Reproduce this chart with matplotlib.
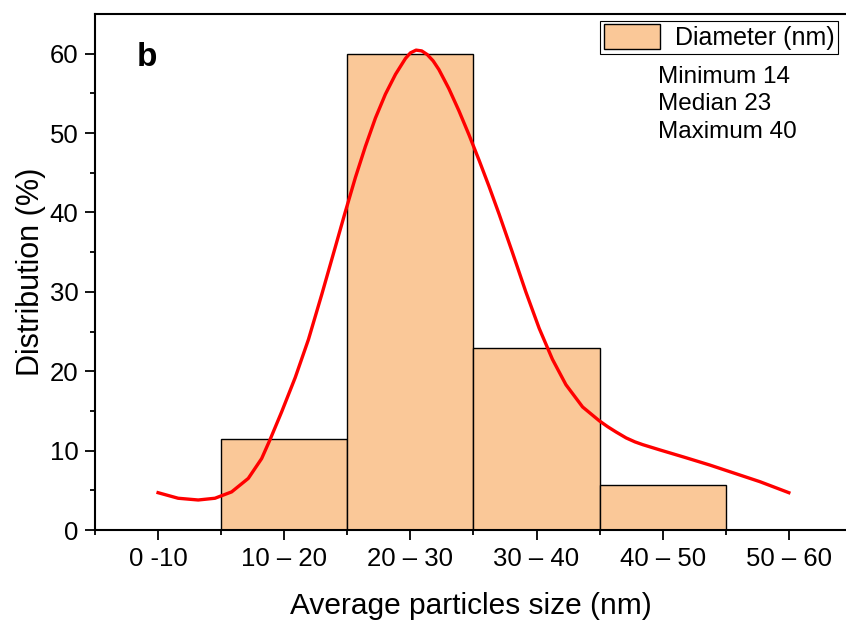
import numpy as np
import matplotlib
matplotlib.use("Agg")
import matplotlib.pyplot as plt
from matplotlib.patches import Patch

plt.rcParams["font.family"] = ["Liberation Sans", "DejaVu Sans"]

# size classes and share of particles (%)
size_bins = ["0 -10", "10 – 20", "20 – 30", "30 – 40", "40 – 50", "50 – 60"]
bar_pos = [1, 2, 3, 4]
bar_heights = [11.5, 60.0, 22.9, 5.7]

# fitted distribution curve (x in bin units, y in %)
fit_x = [0.0, 0.159, 0.318, 0.451, 0.583, 0.715, 0.821, 0.888, 0.98, 1.087,
         1.192, 1.298, 1.404, 1.479, 1.564, 1.643, 1.723, 1.802, 1.882, 1.961,
         2.0, 2.045, 2.09, 2.133, 2.18, 2.226, 2.305, 2.385, 2.464, 2.544,
         2.623, 2.703, 2.808, 2.915, 3.021, 3.126, 3.233, 3.365, 3.498, 3.565,
         3.63, 3.71, 3.78, 3.842, 3.975, 4.173, 4.372, 4.571, 4.77, 5.0]
fit_y = [4.70, 4.0, 3.78, 4.0, 4.8, 6.5, 9.0, 11.4, 14.9, 19.2,
         24.0, 29.7, 35.6, 39.8, 44.4, 48.3, 51.9, 54.9, 57.4, 59.4,
         60.1, 60.45, 60.35, 59.9, 59.1, 58.0, 55.6, 52.8, 49.8, 46.6,
         43.3, 39.8, 35.0, 30.0, 25.4, 21.5, 18.3, 15.5, 13.75, 13.0,
         12.35, 11.6, 11.1, 10.75, 10.1, 9.16, 8.19, 7.14, 6.09, 4.70]

stats_text = "Minimum 14\nMedian 23\nMaximum 40"

fig = plt.figure(figsize=(8.46, 6.22), dpi=100)
ax = fig.add_axes([95 / 846, 92 / 622, 1 - 95 / 846, (530 - 14) / 622])

ax.bar(bar_pos, bar_heights, width=1.0, color="#FAC898", edgecolor="black",
       linewidth=1.0, zorder=2)
ax.plot(fit_x, fit_y, color="#FF0000", lw=2.4, zorder=3,
        solid_joinstyle="round")

ax.set_xlim(-0.5, 5.453)
ax.set_ylim(0, 65)

ax.set_xticks(range(len(size_bins)))
ax.set_xticklabels(size_bins)
ax.set_xticks(np.arange(-0.5, 5.5, 1.0), minor=True)
ax.set_yticks(range(0, 61, 10))
ax.set_yticks(range(5, 61, 10), minor=True)

ax.tick_params(which="major", direction="out", length=7, width=1.3,
               labelsize=18.5, pad=5)
ax.tick_params(which="minor", direction="out", length=3.5, width=1.3)

for side in ["left", "bottom", "top"]:
    ax.spines[side].set_linewidth(1.5)
ax.spines["right"].set_visible(False)

ax.set_xlabel("Average particles size (nm)", fontsize=21.5, labelpad=15)
ax.set_ylabel("Distribution (%)", fontsize=22, labelpad=2.5)

ax.text(0.055, 0.915, "b", transform=ax.transAxes, fontsize=24,
        fontweight="bold", va="center", ha="left")

handle = Patch(facecolor="#FAC898", edgecolor="black", linewidth=1.0)
leg = ax.legend([handle], ["Diameter (nm)"], loc="upper right",
                bbox_to_anchor=(0.99, 0.987), fontsize=18, fancybox=False,
                edgecolor="black", framealpha=1, handlelength=2.25,
                handleheight=1.15, borderpad=0.15, handletextpad=0.6,
                borderaxespad=0.0)
leg.get_frame().set_linewidth(0.8)

ax.text((658 - 95) / 751, 0.899, stats_text,
        transform=ax.transAxes, fontsize=17.5, va="top", ha="left",
        linespacing=1.31)

fig.savefig("out.png", dpi=100)
